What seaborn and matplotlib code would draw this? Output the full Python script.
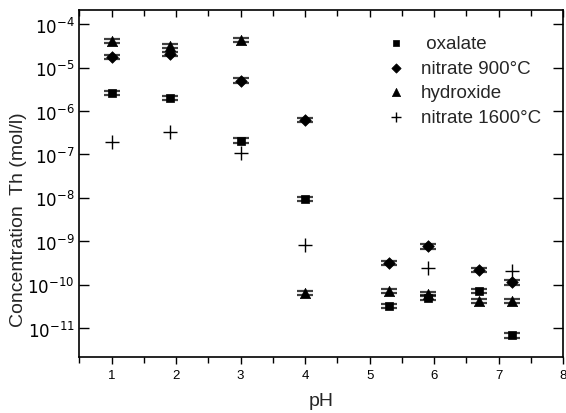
import numpy as np
import pandas as pd
import matplotlib
matplotlib.use("Agg")
import matplotlib.pyplot as plt
import seaborn as sns
from matplotlib.ticker import FixedLocator

sns.set_style("white")
plt.rcParams['font.family'] = ['Liberation Sans', 'DejaVu Sans']

series = [" oxalate", "nitrate 900°C", "hydroxide", "nitrate 1600°C"]

ph_oxalate = [1.0, 1.9, 3.0, 4.0, 5.3, 5.9, 6.7, 7.2]
log_oxalate = [-5.59, -5.70, -6.68, -8.03, -10.50, -10.30, -10.15, -11.17]

ph_nitrate900 = [1.0, 1.9, 3.0, 4.0, 5.3, 5.9, 6.7, 7.2]
log_nitrate900 = [-4.76, -4.69, -5.30, -6.20, -9.50, -9.12, -9.67, -9.95]

ph_hydroxide = [1.0, 1.9, 3.0, 4.0, 5.3, 5.9, 6.7, 7.2]
log_hydroxide = [-4.39, -4.50, -4.36, -10.20, -10.15, -10.22, -10.38, -10.38]

ph_nitrate1600 = [1.0, 1.9, 3.0, 4.0, 5.9, 7.2]
log_nitrate1600 = [-6.72, -6.49, -6.97, -9.09, -9.62, -9.69]

# error half-width in log units for error bars
err_log = 0.05

frames = []
for name, xs, ys in [(series[0], ph_oxalate, log_oxalate),
                     (series[1], ph_nitrate900, log_nitrate900),
                     (series[2], ph_hydroxide, log_hydroxide),
                     (series[3], ph_nitrate1600, log_nitrate1600)]:
    frames.append(pd.DataFrame({"pH": xs, "conc": 10.0 ** np.array(ys), "sample": name}))
df = pd.concat(frames, ignore_index=True)

fig = plt.figure(figsize=(5.66, 4.14), dpi=100)
ax = fig.add_axes([0.14, 0.135, 0.855, 0.838])

# error bars (not for nitrate 1600)
for name in series[:3]:
    d = df[df["sample"] == name]
    lo = d["conc"] - d["conc"] * 10 ** (-err_log)
    hi = d["conc"] * 10 ** (err_log) - d["conc"]
    ax.errorbar(d["pH"], d["conc"], yerr=[lo, hi], fmt="none", ecolor="black",
                elinewidth=1.0, capsize=5.5, capthick=1.6, alpha=0.75, zorder=2)

markers = {series[0]: "s", series[1]: "D", series[2]: "^", series[3]: "+"}
sizes = {series[0]: 30, series[1]: 35, series[2]: 55, series[3]: 90}
for name in series:
    d = df[df["sample"] == name]
    if name == series[3]:
        sns.scatterplot(data=d, x="pH", y="conc", marker="+", s=sizes[name],
                        color="black", linewidth=1.0, ax=ax, label=name, zorder=3)
    else:
        sns.scatterplot(data=d, x="pH", y="conc", marker=markers[name], s=sizes[name],
                        color="black", edgecolor="black", linewidth=0.5, ax=ax,
                        label=name, zorder=3)

ax.set_yscale("log")
ax.set_xlim(0.5, 8)
ax.set_ylim(10 ** -11.67, 10 ** -3.677)

ax.xaxis.set_major_locator(FixedLocator([1, 2, 3, 4, 5, 6, 7, 8]))
ax.xaxis.set_minor_locator(FixedLocator([0.5, 1.5, 2.5, 3.5, 4.5, 5.5, 6.5, 7.5]))
ax.yaxis.set_major_locator(FixedLocator([10.0 ** k for k in range(-11, -3)]))
ax.yaxis.set_minor_locator(FixedLocator([]))
ax.set_yticklabels([r"$10^{%d}$" % k for k in range(-11, -3)])

ax.tick_params(axis="x", which="both", direction="out", top=True, bottom=True,
               length=5, width=1, labelsize=9.5, colors="black")
ax.tick_params(axis="x", which="minor", length=4)
ax.tick_params(axis="y", which="both", direction="in", left=True, right=True,
               length=7, width=1, labelsize=12, colors="black")
for t in ax.xaxis.get_major_ticks() + ax.xaxis.get_minor_ticks():
    t.tick2line.set_marker(3)  # inward ticks on top

for sp in ax.spines.values():
    sp.set_color("black")
    sp.set_linewidth(1.2)

ax.set_xlabel("pH", fontsize=14, labelpad=8)
ax.set_ylabel("Concentration  Th (mol/l)", fontsize=14)
ax.yaxis.set_label_coords(-0.107, 0.40)

leg = ax.legend(loc="upper left", bbox_to_anchor=(0.59, 0.977), frameon=False,
                fontsize=13.5, handletextpad=0.6, labelspacing=0.40, markerscale=0.8,
                handlelength=1.5)

fig.savefig("out.png", dpi=100)
